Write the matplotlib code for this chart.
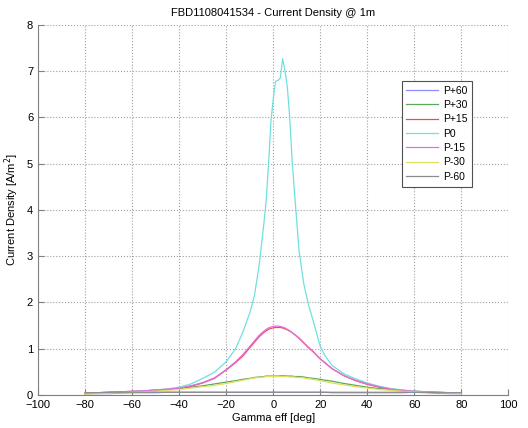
import matplotlib
matplotlib.use("Agg")
import matplotlib.pyplot as plt
import numpy as np

plt.rcParams['font.family'] = ['Liberation Sans', 'DejaVu Sans']

# gamma eff [deg]
gamma = [-80, -75, -70, -65, -60, -55, -50, -45, -40, -35, -30, -25, -20, -16, -13, -10,
         -8, -6, -4, -3, -2, -1, 0, 1, 2, 3, 4, 5, 6, 7, 8, 9, 10, 11, 13, 15, 17, 20,
         22, 25, 30, 35, 40, 45, 50, 55, 60, 65, 70, 75, 80]

p_plus60 = [0.03, 0.03, 0.03, 0.04, 0.05, 0.05, 0.05, 0.06, 0.06, 0.06, 0.06, 0.06, 0.06, 0.06,
            0.06, 0.06, 0.06, 0.06, 0.06, 0.06, 0.06, 0.06, 0.06, 0.06, 0.06, 0.06, 0.06,
            0.06, 0.06, 0.06, 0.06, 0.06, 0.06, 0.06, 0.06, 0.06, 0.06, 0.06, 0.06, 0.05,
            0.05, 0.05, 0.05, 0.05, 0.05, 0.05, 0.06, 0.05, 0.04, 0.03, 0.03]
p_plus30 = [0.03, 0.04, 0.05, 0.06, 0.07, 0.08, 0.10, 0.12, 0.14, 0.17, 0.20, 0.24, 0.28, 0.31,
            0.34, 0.36, 0.38, 0.39, 0.40, 0.41, 0.41, 0.41, 0.41, 0.41, 0.41, 0.415, 0.415,
            0.415, 0.41, 0.41, 0.41, 0.40, 0.40, 0.40, 0.39, 0.37, 0.36, 0.34, 0.32, 0.30,
            0.25, 0.21, 0.17, 0.14, 0.12, 0.10, 0.08, 0.06, 0.05, 0.04, 0.04]
p_plus15 = [0.04, 0.05, 0.06, 0.07, 0.08, 0.09, 0.11, 0.12, 0.145, 0.19, 0.26, 0.36, 0.54, 0.70,
            0.84, 1.02, 1.14, 1.26, 1.35, 1.39, 1.42, 1.44, 1.45, 1.46, 1.46, 1.46, 1.45,
            1.43, 1.41, 1.38, 1.35, 1.31, 1.27, 1.23, 1.13, 1.03, 0.94, 0.78, 0.70, 0.57,
            0.42, 0.31, 0.23, 0.17, 0.13, 0.10, 0.08, 0.07, 0.06, 0.05, 0.04]
p0 = [0.03, 0.04, 0.05, 0.06, 0.08, 0.09, 0.11, 0.13, 0.17, 0.24, 0.36, 0.49, 0.72, 1.00,
      1.35, 1.77, 2.15, 2.80, 3.70, 4.20, 5.00, 5.90, 6.40, 6.78, 6.80, 6.85, 7.27,
      7.00, 6.65, 6.00, 5.10, 4.40, 3.75, 3.10, 2.40, 1.95, 1.60, 1.05, 0.85, 0.64,
      0.46, 0.35, 0.26, 0.19, 0.14, 0.11, 0.09, 0.07, 0.06, 0.05, 0.04]
p_minus15 = [0.04, 0.05, 0.06, 0.07, 0.08, 0.09, 0.11, 0.13, 0.15, 0.20, 0.27, 0.37, 0.55, 0.72,
             0.87, 1.05, 1.17, 1.29, 1.38, 1.42, 1.45, 1.47, 1.48, 1.49, 1.49, 1.48, 1.47,
             1.45, 1.42, 1.39, 1.35, 1.31, 1.27, 1.22, 1.12, 1.02, 0.93, 0.78, 0.69, 0.57,
             0.42, 0.32, 0.24, 0.18, 0.13, 0.10, 0.08, 0.07, 0.06, 0.05, 0.04]
p_minus30 = [0.02, 0.03, 0.04, 0.05, 0.06, 0.07, 0.08, 0.10, 0.12, 0.15, 0.18, 0.21, 0.25, 0.29,
             0.32, 0.35, 0.37, 0.38, 0.39, 0.40, 0.40, 0.40, 0.40, 0.40, 0.40, 0.40, 0.40,
             0.40, 0.40, 0.39, 0.39, 0.39, 0.38, 0.38, 0.37, 0.35, 0.34, 0.31, 0.29, 0.26,
             0.22, 0.18, 0.15, 0.12, 0.10, 0.08, 0.07, 0.06, 0.05, 0.04, 0.03]
p_minus60 = [0.05, 0.05, 0.06, 0.06, 0.06, 0.06, 0.06, 0.06, 0.06, 0.06, 0.06, 0.06, 0.06, 0.06,
             0.06, 0.06, 0.06, 0.06, 0.06, 0.06, 0.06, 0.06, 0.06, 0.06, 0.06, 0.06, 0.06,
             0.06, 0.06, 0.06, 0.06, 0.06, 0.06, 0.06, 0.06, 0.06, 0.06, 0.06, 0.06, 0.06,
             0.06, 0.06, 0.06, 0.06, 0.06, 0.06, 0.06, 0.06, 0.05, 0.05, 0.05]

series = [
    ("P+60", p_plus60, "#8c8cff"),
    ("P+30", p_plus30, "#5aa85a"),
    ("P+15", p_plus15, "#f04a5a"),
    ("P0", p0, "#6fe0e0"),
    ("P-15", p_minus15, "#e070e0"),
    ("P-30", p_minus30, "#e0e060"),
    ("P-60", p_minus60, "#8c8c8c"),
]


def main():
    fig = plt.figure(figsize=(5.28, 4.28), dpi=100)
    ax = fig.add_axes([0.072, 0.077, 0.891, 0.865])

    for label, vals, col in series:
        ax.plot(gamma, vals, color=col, lw=0.9, label=label)

    ax.set_xlim(-100, 100)
    ax.set_ylim(0, 8)
    ax.set_xticks(np.arange(-100, 101, 20))
    ax.set_yticks(np.arange(0, 9, 1))
    ax.grid(True, linestyle=':', color='#a0a0a0', linewidth=0.8)
    ax.tick_params(direction='in', length=4, width=0.8, color='#808080', labelsize=8,
                   top=False, right=False)
    for side in ['top', 'right']:
        ax.spines[side].set_visible(False)
    for side in ['left', 'bottom']:
        ax.spines[side].set_color('#808080')
        ax.spines[side].set_linewidth(0.8)

    ax.set_title("FBD1108041534 - Current Density @ 1m", fontsize=8, pad=6)
    ax.set_xlabel("Gamma eff [deg]", fontsize=8, labelpad=2)
    ax.set_ylabel("Current Density [A/m$^2$]", fontsize=8, labelpad=4)

    leg = ax.legend(loc='upper left', bbox_to_anchor=(0.761, 0.811),
                    bbox_transform=fig.transFigure, fontsize=7.5, fancybox=False,
                    framealpha=1, edgecolor='#505050', handlelength=3.0,
                    handletextpad=0.5, labelspacing=0.42, borderpad=0.45,
                    borderaxespad=0)
    leg.get_frame().set_linewidth(0.8)

    fig.savefig("out.png", dpi=100)


if __name__ == '__main__':
    main()
